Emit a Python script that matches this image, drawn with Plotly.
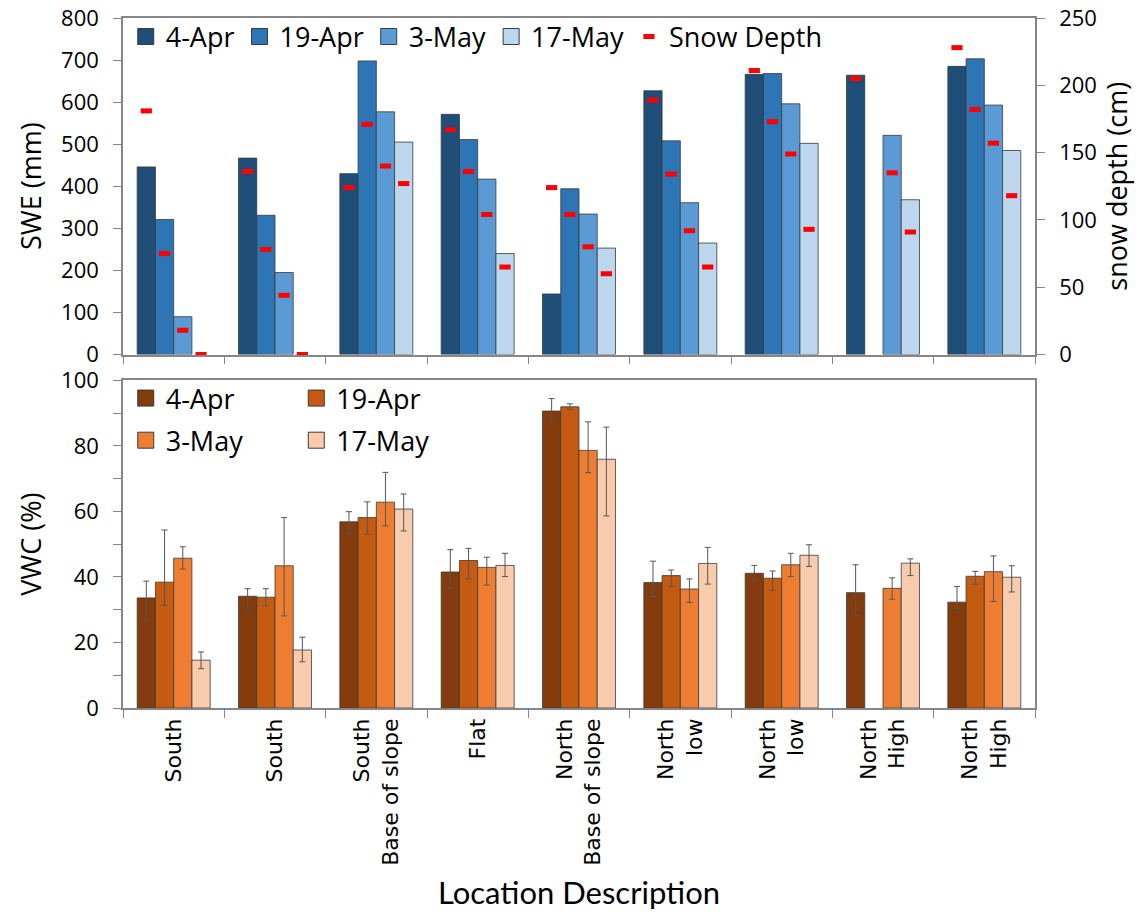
import plotly.graph_objects as go

# Sites (unique keys) and their axis labels
sites = ["s1", "s2", "s3", "s4", "s5", "s6", "s7", "s8", "s9"]
site_labels = ["South", "South", "South<br>Base of slope", "Flat",
               "North<br>Base of slope", "North<br>low", "North<br>low",
               "North<br>High", "North<br>High"]
dates = ["4-Apr", "19-Apr", "3-May", "17-May"]

# Snow water equivalent (mm)
swe_apr4 = [446, 467, 430, 571, 144, 627, 666, 664, 685]
swe_apr19 = [321, 331, 698, 511, 394, 508, 668, None, 703]
swe_may3 = [90, 195, 577, 417, 334, 361, 596, 521, 593]
swe_may17 = [None, None, 505, 240, 253, 265, 502, 368, 485]

# Snow depth (cm)
depth_apr4 = [181, 136, 124, 167, 124, 189, 211, 205, 228]
depth_apr19 = [75, 78, 171, 136, 104, 134, 173, None, 182]
depth_may3 = [18, 44, 140, 104, 80, 92, 149, 135, 157]
depth_may17 = [0, 0, 127, 65, 60, 65, 93, 91, 118]

# Volumetric water content (%) with upper / lower error
vwc_apr4 = [33.6, 34.1, 56.8, 41.5, 90.6, 38.3, 41.1, 35.2, 32.3]
vwc_apr4_up = [5.1, 2.3, 3.1, 6.8, 3.8, 6.5, 2.4, 8.5, 4.8]
vwc_apr4_dn = [6.5, 4.2, 3.5, 5.0, 3.4, 4.3, 1.8, 7.0, 2.0]
vwc_apr19 = [38.4, 33.8, 58.1, 45.0, 91.9, 40.4, 39.6, None, 40.2]
vwc_apr19_up = [15.9, 2.6, 4.8, 3.7, 0.9, 1.7, 2.2, 0, 1.5]
vwc_apr19_dn = [7.1, 2.6, 5.1, 5.6, 0.8, 3.3, 3.7, 0, 2.4]
vwc_may3 = [45.7, 43.4, 62.8, 42.9, 78.6, 36.3, 43.7, 36.5, 41.6]
vwc_may3_up = [3.5, 14.7, 9.1, 3.1, 8.7, 3.1, 3.5, 3.2, 4.8]
vwc_may3_dn = [3.3, 15.3, 7.2, 5.4, 6.8, 4.1, 3.6, 3.3, 9.1]
vwc_may17 = [14.6, 17.7, 60.7, 43.5, 75.9, 44.1, 46.6, 44.2, 39.9]
vwc_may17_up = [2.5, 3.9, 4.6, 3.7, 9.8, 4.9, 3.2, 1.3, 3.5]
vwc_may17_dn = [2.6, 3.6, 6.7, 3.4, 17.3, 6.3, 3.4, 3.8, 4.5]

blues = ["#1F4E79", "#2E75B6", "#5B9BD5", "#BDD7EE"]
oranges = ["#843C0C", "#C55A11", "#ED7D31", "#F8CBAD"]

FONT = "Open Sans"
AXIS_COLOR = "#868686"
EDGE = "#3A3A3A"

swe = [swe_apr4, swe_apr19, swe_may3, swe_may17]
depth = [depth_apr4, depth_apr19, depth_may3, depth_may17]
vwc = [vwc_apr4, vwc_apr19, vwc_may3, vwc_may17]
vwc_up = [vwc_apr4_up, vwc_apr19_up, vwc_may3_up, vwc_may17_up]
vwc_dn = [vwc_apr4_dn, vwc_apr19_dn, vwc_may3_dn, vwc_may17_dn]


def legend_key(name, color, xa, ya, group, legend):
    """Large square legend swatch for a bar series."""
    return go.Scatter(
        x=[None], y=[None], name=name, mode="markers", xaxis=xa, yaxis=ya,
        offsetgroup=group, legendgroup=name + legend, legend=legend,
        marker=dict(symbol="square", size=18, color=color,
                    line=dict(color=EDGE, width=1)),
        hoverinfo="skip",
    )


fig = go.Figure()

# Upper panel: SWE bars, one offset group per survey date
for i, d in enumerate(dates):
    fig.add_trace(go.Bar(
        x=sites, y=swe[i], name=d, xaxis="x", yaxis="y",
        offsetgroup="d%d" % i, showlegend=False,
        marker=dict(color=blues[i], line=dict(color=EDGE, width=0.8)),
    ))
    fig.add_trace(legend_key(d, blues[i], "x", "y", "d%d" % i, "legend"))

# Upper panel: snow depth markers sharing the bars' offset groups
for i, d in enumerate(dates):
    fig.add_trace(go.Scatter(
        x=sites, y=depth[i], name="Snow Depth", xaxis="x", yaxis="y2",
        mode="markers", offsetgroup="d%d" % i, legendgroup="depth",
        showlegend=(i == 0), cliponaxis=False,
        marker=dict(symbol="line-ew", size=8, color="#FF0000",
                    line=dict(color="#FF0000", width=5)),
        legend="legend",
    ))

# Lower panel: VWC bars with error bars
vwc_legend = ["legend2", "legend3", "legend2", "legend3"]
for i, d in enumerate(dates):
    fig.add_trace(go.Bar(
        x=sites, y=vwc[i], name=d, xaxis="x2", yaxis="y3",
        offsetgroup="v%d" % i, showlegend=False,
        marker=dict(color=oranges[i], line=dict(color=EDGE, width=0.8)),
        error_y=dict(type="data", symmetric=False, array=vwc_up[i],
                     arrayminus=vwc_dn[i], color="#555555", thickness=1, width=3),
    ))
for i in [0, 2, 1, 3]:
    fig.add_trace(legend_key(dates[i], oranges[i], "x2", "y3", "v%d" % i,
                             vwc_legend[i]))

top_dom = [0.5123, 1.0]
bot_dom = [0.0, 0.475]

common_x = dict(
    type="category", categoryorder="array", categoryarray=sites,
    tickmode="array", tickvals=sites, ticktext=site_labels,
    tickson="boundaries", ticks="outside", ticklen=8, tickcolor=AXIS_COLOR,
    showline=True, linecolor=AXIS_COLOR, linewidth=1.5, mirror=True,
    showgrid=False, zeroline=False, automargin=False,
)

common_y = dict(
    ticks="outside", ticklen=8, tickcolor=AXIS_COLOR,
    tickfont=dict(size=22), ticklabelstandoff=10, ticklabeloverflow="allow",
    showline=True, linecolor=AXIS_COLOR, linewidth=1.5,
    showgrid=False, zeroline=False, automargin=False,
)

legend_common = dict(bgcolor="rgba(0,0,0,0)", font=dict(size=27),
                     itemsizing="trace")

fig.update_layout(
    width=1147, height=917,
    margin=dict(l=123, r=112, t=18, b=209),
    paper_bgcolor="white", plot_bgcolor="white",
    font=dict(family=FONT, color="#000000", size=24),
    barmode="group", bargap=0.28, bargroupgap=0,
    scattermode="group",
    xaxis=dict(common_x, domain=[0, 1], anchor="y", showticklabels=False),
    yaxis=dict(
        common_y, domain=top_dom, anchor="x", range=[0, 800], dtick=100,
        title=dict(text="SWE (mm)", font=dict(size=27), standoff=12),
    ),
    yaxis2=dict(
        common_y, overlaying="y", side="right", anchor="x",
        range=[0, 250], dtick=50,
        title=dict(text="snow depth (cm)", font=dict(size=27), standoff=12),
    ),
    xaxis2=dict(
        common_x, domain=[0, 1], anchor="y3",
        tickangle=-90, tickfont=dict(family="DejaVu Sans", size=22),
        title=dict(text="Location Description",
                   font=dict(family="Lato", size=31), standoff=17),
    ),
    yaxis3=dict(
        common_y, domain=bot_dom, anchor="x2", range=[0, 100], dtick=20,
        minor=dict(dtick=10, ticks="outside", ticklen=8, tickcolor=AXIS_COLOR),
        mirror=True,
        title=dict(text="VWC (%)", font=dict(size=27), standoff=12),
    ),
    legend=dict(
        legend_common, orientation="h", x=0.003, xanchor="left",
        y=1.008, yanchor="top", traceorder="normal", tracegroupgap=0,
    ),
    legend2=dict(
        legend_common, orientation="v", x=0.003, xanchor="left",
        y=0.484, yanchor="top", tracegroupgap=4,
    ),
    legend3=dict(
        legend_common, orientation="v", x=0.19, xanchor="left",
        y=0.484, yanchor="top", tracegroupgap=4,
    ),
)

fig.write_html("out.html")
